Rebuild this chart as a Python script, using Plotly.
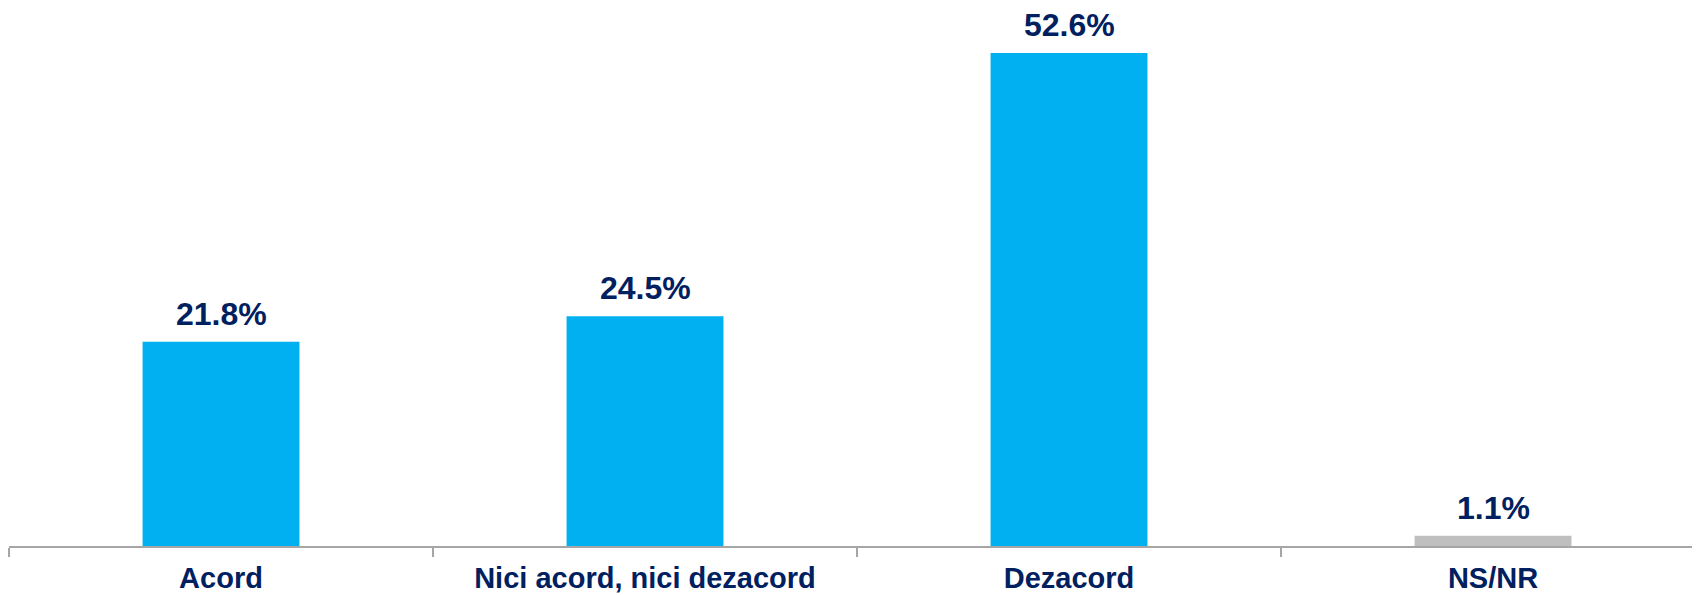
import plotly.graph_objects as go

categories = ["Acord", "Nici acord, nici dezacord", "Dezacord", "NS/NR"]
values = [21.8, 24.5, 52.6, 1.1]
value_labels = ["21.8%", "24.5%", "52.6%", "1.1%"]
bar_colors = ["#00B0F0", "#00B0F0", "#00B0F0", "#BFBFBF"]

navy = "#002060"
fam = "Liberation Sans, Arial, sans-serif"

fig = go.Figure()
fig.add_trace(go.Bar(
    x=categories, y=values, marker=dict(color=bar_colors, line=dict(width=0)),
    width=0.37, hoverinfo="skip",
))

for c, v, t in zip(categories, values, value_labels):
    fig.add_annotation(x=c, y=v, xref="x", yref="y", text=t, showarrow=False,
                       yanchor="bottom", yshift=8,
                       font=dict(family=fam, size=32, color=navy, weight="bold"))

fig.update_layout(
    width=1700, height=595,
    margin=dict(l=1, r=0, t=0, b=57, autoexpand=False),
    plot_bgcolor="white", paper_bgcolor="white",
    showlegend=False,
    xaxis=dict(
        type="category", range=[-0.5, 3.507], automargin=False,
        showline=True, linecolor="#A6A6A6", linewidth=1.5,
        ticks="outside", tickson="boundaries", ticklen=9, tickcolor="#A6A6A6", tickwidth=1.5,
        ticklabelstandoff=5,
        tickfont=dict(family=fam, size=29, color=navy, weight="bold"),
        showgrid=False, zeroline=False,
    ),
    yaxis=dict(range=[0, 57.4], visible=False, showgrid=False, zeroline=False, automargin=False),
)

fig.write_html("out.html")
